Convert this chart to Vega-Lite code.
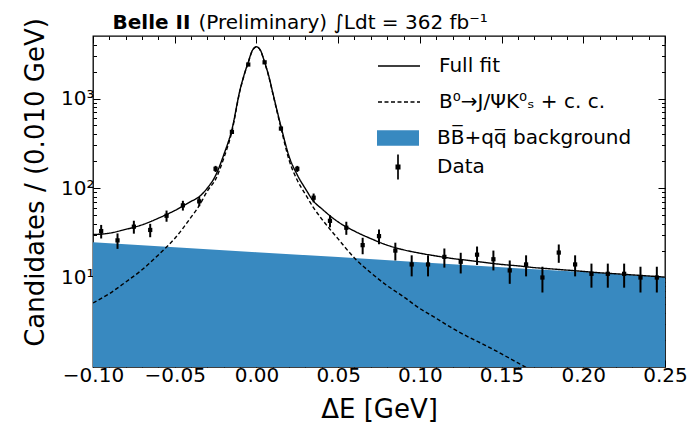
{
  "$schema": "https://vega.github.io/schema/vega-lite/v6.json",
  "width": 572,
  "height": 331,
  "autosize": {"type": "none"},
  "padding": {"left": 93, "top": 36, "right": 23, "bottom": 55},
  "background": "white",
  "config": {
    "font": "DejaVu Sans",
    "view": {"stroke": "black", "strokeWidth": 1.3},
    "axis": {"grid": false, "domain": false, "tickColor": "black", "labelColor": "black", "titleColor": "black", "labelFont": "DejaVu Sans", "titleFont": "DejaVu Sans", "labelFontSize": 20, "tickWidth": 1, "titleFontWeight": "normal", "labelFlush": false, "labelOverlap": false},
    "legend": {"labelFont": "DejaVu Sans", "labelFontSize": 20, "labelColor": "black", "orient": "none", "padding": 0, "title": null, "labelLimit": 0}
  },
  "datasets": {
    "bkg": [
      {"x": -0.1, "n": 24.8}, {"x": -0.05, "n": 21.8}, {"x": 0.0, "n": 19.2}, {"x": 0.05, "n": 16.9},
      {"x": 0.1, "n": 14.8}, {"x": 0.15, "n": 13.0}, {"x": 0.2, "n": 11.5}, {"x": 0.25, "n": 10.1}
    ],
    "curves": [
      {"series": "Full fit", "x": -0.1, "n": 30.2},
      {"series": "Full fit", "x": -0.09, "n": 31.3},
      {"series": "Full fit", "x": -0.08, "n": 34.5},
      {"series": "Full fit", "x": -0.07, "n": 38.8},
      {"series": "Full fit", "x": -0.06, "n": 46},
      {"series": "Full fit", "x": -0.05, "n": 56},
      {"series": "Full fit", "x": -0.04, "n": 70.8},
      {"series": "Full fit", "x": -0.035, "n": 80},
      {"series": "Full fit", "x": -0.03, "n": 100},
      {"series": "Full fit", "x": -0.025, "n": 138},
      {"series": "Full fit", "x": -0.02, "n": 235},
      {"series": "Full fit", "x": -0.015, "n": 451},
      {"series": "Full fit", "x": -0.01, "n": 1260},
      {"series": "Full fit", "x": -0.0075, "n": 1850},
      {"series": "Full fit", "x": -0.005, "n": 2550},
      {"series": "Full fit", "x": -0.0025, "n": 3450},
      {"series": "Full fit", "x": 0.0, "n": 3790},
      {"series": "Full fit", "x": 0.0025, "n": 3450},
      {"series": "Full fit", "x": 0.005, "n": 2550},
      {"series": "Full fit", "x": 0.0075, "n": 1800},
      {"series": "Full fit", "x": 0.01, "n": 1160},
      {"series": "Full fit", "x": 0.015, "n": 490},
      {"series": "Full fit", "x": 0.02, "n": 225},
      {"series": "Full fit", "x": 0.025, "n": 140},
      {"series": "Full fit", "x": 0.03, "n": 98},
      {"series": "Full fit", "x": 0.035, "n": 71},
      {"series": "Full fit", "x": 0.04, "n": 58.6},
      {"series": "Full fit", "x": 0.05, "n": 41.8},
      {"series": "Full fit", "x": 0.06, "n": 33},
      {"series": "Full fit", "x": 0.07, "n": 27.2},
      {"series": "Full fit", "x": 0.08, "n": 23},
      {"series": "Full fit", "x": 0.09, "n": 20.4},
      {"series": "Full fit", "x": 0.1, "n": 18.7},
      {"series": "Full fit", "x": 0.11, "n": 17.4},
      {"series": "Full fit", "x": 0.12, "n": 16.3},
      {"series": "Full fit", "x": 0.13, "n": 15.5},
      {"series": "Full fit", "x": 0.14, "n": 14.7},
      {"series": "Full fit", "x": 0.15, "n": 14.0},
      {"series": "Full fit", "x": 0.16, "n": 13.5},
      {"series": "Full fit", "x": 0.17, "n": 12.9},
      {"series": "Full fit", "x": 0.18, "n": 12.5},
      {"series": "Full fit", "x": 0.19, "n": 12.1},
      {"series": "Full fit", "x": 0.2, "n": 11.7},
      {"series": "Full fit", "x": 0.21, "n": 11.3},
      {"series": "Full fit", "x": 0.22, "n": 11.0},
      {"series": "Full fit", "x": 0.23, "n": 10.7},
      {"series": "Full fit", "x": 0.24, "n": 10.4},
      {"series": "Full fit", "x": 0.25, "n": 10.1},
      {"series": "B⁰→J/ΨK⁰ₛ + c. c.", "x": -0.1, "n": 5.2},
      {"series": "B⁰→J/ΨK⁰ₛ + c. c.", "x": -0.09, "n": 6.6},
      {"series": "B⁰→J/ΨK⁰ₛ + c. c.", "x": -0.08, "n": 8.9},
      {"series": "B⁰→J/ΨK⁰ₛ + c. c.", "x": -0.07, "n": 12.2},
      {"series": "B⁰→J/ΨK⁰ₛ + c. c.", "x": -0.06, "n": 17.9},
      {"series": "B⁰→J/ΨK⁰ₛ + c. c.", "x": -0.05, "n": 27.3},
      {"series": "B⁰→J/ΨK⁰ₛ + c. c.", "x": -0.04, "n": 47.2},
      {"series": "B⁰→J/ΨK⁰ₛ + c. c.", "x": -0.035, "n": 63.5},
      {"series": "B⁰→J/ΨK⁰ₛ + c. c.", "x": -0.03, "n": 93},
      {"series": "B⁰→J/ΨK⁰ₛ + c. c.", "x": -0.025, "n": 125},
      {"series": "B⁰→J/ΨK⁰ₛ + c. c.", "x": -0.02, "n": 215},
      {"series": "B⁰→J/ΨK⁰ₛ + c. c.", "x": -0.015, "n": 430},
      {"series": "B⁰→J/ΨK⁰ₛ + c. c.", "x": -0.01, "n": 1240},
      {"series": "B⁰→J/ΨK⁰ₛ + c. c.", "x": -0.0075, "n": 1830},
      {"series": "B⁰→J/ΨK⁰ₛ + c. c.", "x": -0.005, "n": 2530},
      {"series": "B⁰→J/ΨK⁰ₛ + c. c.", "x": -0.0025, "n": 3430},
      {"series": "B⁰→J/ΨK⁰ₛ + c. c.", "x": 0.0, "n": 3770},
      {"series": "B⁰→J/ΨK⁰ₛ + c. c.", "x": 0.0025, "n": 3430},
      {"series": "B⁰→J/ΨK⁰ₛ + c. c.", "x": 0.005, "n": 2530},
      {"series": "B⁰→J/ΨK⁰ₛ + c. c.", "x": 0.0075, "n": 1780},
      {"series": "B⁰→J/ΨK⁰ₛ + c. c.", "x": 0.01, "n": 1140},
      {"series": "B⁰→J/ΨK⁰ₛ + c. c.", "x": 0.015, "n": 470},
      {"series": "B⁰→J/ΨK⁰ₛ + c. c.", "x": 0.02, "n": 205},
      {"series": "B⁰→J/ΨK⁰ₛ + c. c.", "x": 0.025, "n": 122},
      {"series": "B⁰→J/ΨK⁰ₛ + c. c.", "x": 0.03, "n": 85},
      {"series": "B⁰→J/ΨK⁰ₛ + c. c.", "x": 0.035, "n": 60},
      {"series": "B⁰→J/ΨK⁰ₛ + c. c.", "x": 0.04, "n": 45},
      {"series": "B⁰→J/ΨK⁰ₛ + c. c.", "x": 0.05, "n": 27},
      {"series": "B⁰→J/ΨK⁰ₛ + c. c.", "x": 0.06, "n": 16.5},
      {"series": "B⁰→J/ΨK⁰ₛ + c. c.", "x": 0.07, "n": 11.3},
      {"series": "B⁰→J/ΨK⁰ₛ + c. c.", "x": 0.08, "n": 8.1},
      {"series": "B⁰→J/ΨK⁰ₛ + c. c.", "x": 0.09, "n": 6.1},
      {"series": "B⁰→J/ΨK⁰ₛ + c. c.", "x": 0.1, "n": 4.5},
      {"series": "B⁰→J/ΨK⁰ₛ + c. c.", "x": 0.11, "n": 3.5},
      {"series": "B⁰→J/ΨK⁰ₛ + c. c.", "x": 0.12, "n": 2.7},
      {"series": "B⁰→J/ΨK⁰ₛ + c. c.", "x": 0.13, "n": 2.15},
      {"series": "B⁰→J/ΨK⁰ₛ + c. c.", "x": 0.14, "n": 1.75},
      {"series": "B⁰→J/ΨK⁰ₛ + c. c.", "x": 0.15, "n": 1.4},
      {"series": "B⁰→J/ΨK⁰ₛ + c. c.", "x": 0.16, "n": 1.11},
      {"series": "B⁰→J/ΨK⁰ₛ + c. c.", "x": 0.17, "n": 0.875}
    ],
    "pts": [
      {"x": -0.095, "n": 33, "lo": 27.3, "hi": 38.7},
      {"x": -0.085, "n": 26, "lo": 20.9, "hi": 31.1},
      {"x": -0.075, "n": 37, "lo": 30.9, "hi": 43.1},
      {"x": -0.065, "n": 34, "lo": 28.2, "hi": 39.8},
      {"x": -0.055, "n": 49, "lo": 42, "hi": 56},
      {"x": -0.045, "n": 64, "lo": 56, "hi": 72},
      {"x": -0.035, "n": 71, "lo": 62.6, "hi": 79.4},
      {"x": -0.025, "n": 164, "lo": 151.2, "hi": 176.8},
      {"x": -0.015, "n": 424, "lo": 403.4, "hi": 444.6},
      {"x": -0.005, "n": 2400, "lo": 2351, "hi": 2449},
      {"x": 0.005, "n": 2540, "lo": 2489.6, "hi": 2590.4},
      {"x": 0.015, "n": 462, "lo": 440.5, "hi": 483.5},
      {"x": 0.025, "n": 164, "lo": 151.2, "hi": 176.8},
      {"x": 0.035, "n": 78, "lo": 69.2, "hi": 86.8},
      {"x": 0.045, "n": 43, "lo": 36.4, "hi": 49.6},
      {"x": 0.055, "n": 36, "lo": 30, "hi": 42},
      {"x": 0.065, "n": 23, "lo": 18.2, "hi": 27.8},
      {"x": 0.075, "n": 29, "lo": 23.6, "hi": 34.4},
      {"x": 0.085, "n": 20, "lo": 15.5, "hi": 24.5},
      {"x": 0.095, "n": 14, "lo": 10.3, "hi": 17.7},
      {"x": 0.105, "n": 14, "lo": 10.3, "hi": 17.7},
      {"x": 0.115, "n": 17, "lo": 12.9, "hi": 21.1},
      {"x": 0.125, "n": 15, "lo": 11.1, "hi": 18.9},
      {"x": 0.135, "n": 18, "lo": 13.8, "hi": 22.2},
      {"x": 0.145, "n": 16, "lo": 12, "hi": 20},
      {"x": 0.155, "n": 12, "lo": 8.5, "hi": 15.5},
      {"x": 0.165, "n": 14, "lo": 10.3, "hi": 17.7},
      {"x": 0.175, "n": 10, "lo": 6.8, "hi": 13.2},
      {"x": 0.185, "n": 19, "lo": 14.6, "hi": 23.4},
      {"x": 0.195, "n": 14, "lo": 10.3, "hi": 17.7},
      {"x": 0.205, "n": 11, "lo": 7.7, "hi": 14.3},
      {"x": 0.215, "n": 11, "lo": 7.7, "hi": 14.3},
      {"x": 0.225, "n": 11, "lo": 7.7, "hi": 14.3},
      {"x": 0.235, "n": 10, "lo": 6.8, "hi": 13.2},
      {"x": 0.245, "n": 10, "lo": 6.8, "hi": 13.2}
    ]
  },
  "layer": [
    {
      "data": {"name": "bkg"},
      "mark": {"type": "area", "clip": true},
      "encoding": {
        "x": {"field": "x", "type": "quantitative", "scale": {"domain": [-0.1, 0.25], "nice": false, "zero": false},
          "axis": {"orient": "bottom", "values": [-0.1, -0.05, 0, 0.05, 0.1, 0.15, 0.2, 0.25], "format": ".2f", "tickSize": -7, "labelPadding": 5,
            "title": "ΔE [GeV]", "titleFontSize": 26, "titleX": 286, "titleY": 50, "titleBaseline": "alphabetic", "titleAlign": "center"}},
        "y": {"field": "n", "type": "quantitative", "scale": {"type": "log", "domain": [1, 5000], "nice": false},
          "axis": {"orient": "left", "values": [10, 100, 1000], "labelExpr": "datum.value == 10 ? '10¹' : datum.value == 100 ? '10²' : '10³'", "tickSize": -7, "labelPadding": 6,
            "title": "Candidates / (0.010 GeV)", "titleFontSize": 26, "titleX": -50, "titleY": 146, "titleAngle": -90, "titleAlign": "center", "titleBaseline": "alphabetic"}},
        "y2": {"datum": 1},
        "fill": {"datum": "BB̅+qq̅ background", "type": "nominal", "scale": {"range": ["#3889c0"]},
          "legend": {"legendX": 284, "legendY": 81, "symbolType": "M-1,-0.37H1V0.37H-1Z", "symbolSize": 1764, "symbolStrokeWidth": 0, "labelOffset": 18}}
      }
    },
    {
      "data": {"name": "curves"},
      "mark": {"type": "line", "clip": true, "interpolate": "monotone", "color": "black", "strokeWidth": 1.4},
      "encoding": {
        "x": {"field": "x", "type": "quantitative",
          "axis": {"orient": "top", "values": [-0.1, -0.05, 0, 0.05, 0.1, 0.15, 0.2, 0.25], "labels": false, "tickSize": -7,
            "title": "Belle II", "titleFontSize": 20, "titleFontWeight": "bold", "titleX": 19, "titleY": -8, "titleAlign": "left", "titleBaseline": "alphabetic"}},
        "y": {"field": "n", "type": "quantitative",
          "axis": {"orient": "right", "values": [10, 100, 1000], "labels": false, "tickSize": -7, "title": null}},
        "strokeDash": {"field": "series", "type": "nominal",
          "scale": {"domain": ["Full fit", "B⁰→J/ΨK⁰ₛ + c. c."], "range": [[1, 0], [4, 2.5]]},
          "legend": {"legendX": 284, "legendY": 8, "symbolType": "M-1,0H1", "symbolSize": 1764, "symbolStrokeColor": "black", "symbolStrokeWidth": 1.4, "labelOffset": 18, "rowPadding": 4}}
      }
    },
    {
      "data": {"name": "pts"},
      "mark": {"type": "rule", "color": "black", "strokeWidth": 2},
      "encoding": {
        "x": {"field": "x", "type": "quantitative",
          "axis": {"orient": "bottom", "values": [-0.09, -0.08, -0.07, -0.06, -0.04, -0.03, -0.02, -0.01, 0.01, 0.02, 0.03, 0.04, 0.06, 0.07, 0.08, 0.09, 0.11, 0.12, 0.13, 0.14, 0.16, 0.17, 0.18, 0.19, 0.21, 0.22, 0.23, 0.24], "labels": false, "tickSize": -3.5, "title": null}},
        "y": {"field": "lo", "type": "quantitative",
          "axis": {"orient": "left", "values": [2, 3, 4, 5, 6, 7, 8, 9, 20, 30, 40, 50, 60, 70, 80, 90, 200, 300, 400, 500, 600, 700, 800, 900, 2000, 3000, 4000], "labels": false, "tickSize": -3.5, "title": null}},
        "y2": {"field": "hi"}
      }
    },
    {
      "data": {"name": "pts"},
      "mark": {"type": "point", "filled": true, "shape": "square", "size": 18, "color": "black"},
      "encoding": {
        "x": {"field": "x", "type": "quantitative",
          "axis": {"orient": "top", "values": [-0.09, -0.08, -0.07, -0.06, -0.04, -0.03, -0.02, -0.01, 0.01, 0.02, 0.03, 0.04, 0.06, 0.07, 0.08, 0.09, 0.11, 0.12, 0.13, 0.14, 0.16, 0.17, 0.18, 0.19, 0.21, 0.22, 0.23, 0.24], "labels": false, "tickSize": -3.5,
            "title": "(Preliminary) ∫Ldt = 362 fb⁻¹", "titleFontSize": 20, "titleFontWeight": "normal", "titleX": 105, "titleY": -8, "titleAlign": "left", "titleBaseline": "alphabetic"}},
        "y": {"field": "n", "type": "quantitative",
          "axis": {"orient": "right", "values": [2, 3, 4, 5, 6, 7, 8, 9, 20, 30, 40, 50, 60, 70, 80, 90, 200, 300, 400, 500, 600, 700, 800, 900, 2000, 3000, 4000], "labels": false, "tickSize": -3.5, "title": null}},
        "opacity": {"datum": "Data", "type": "nominal", "scale": {"range": [1]},
          "legend": {"legendX": 284, "legendY": 110, "symbolType": "M-0.04,-0.6H0.04V0.6H-0.04ZM-0.12,-0.12H0.12V0.12H-0.12Z", "symbolSize": 1764, "symbolFillColor": "black", "symbolStrokeWidth": 0, "labelOffset": 18}}
      }
    }
  ],
  "resolve": {"axis": {"x": "independent", "y": "independent"}}
}
